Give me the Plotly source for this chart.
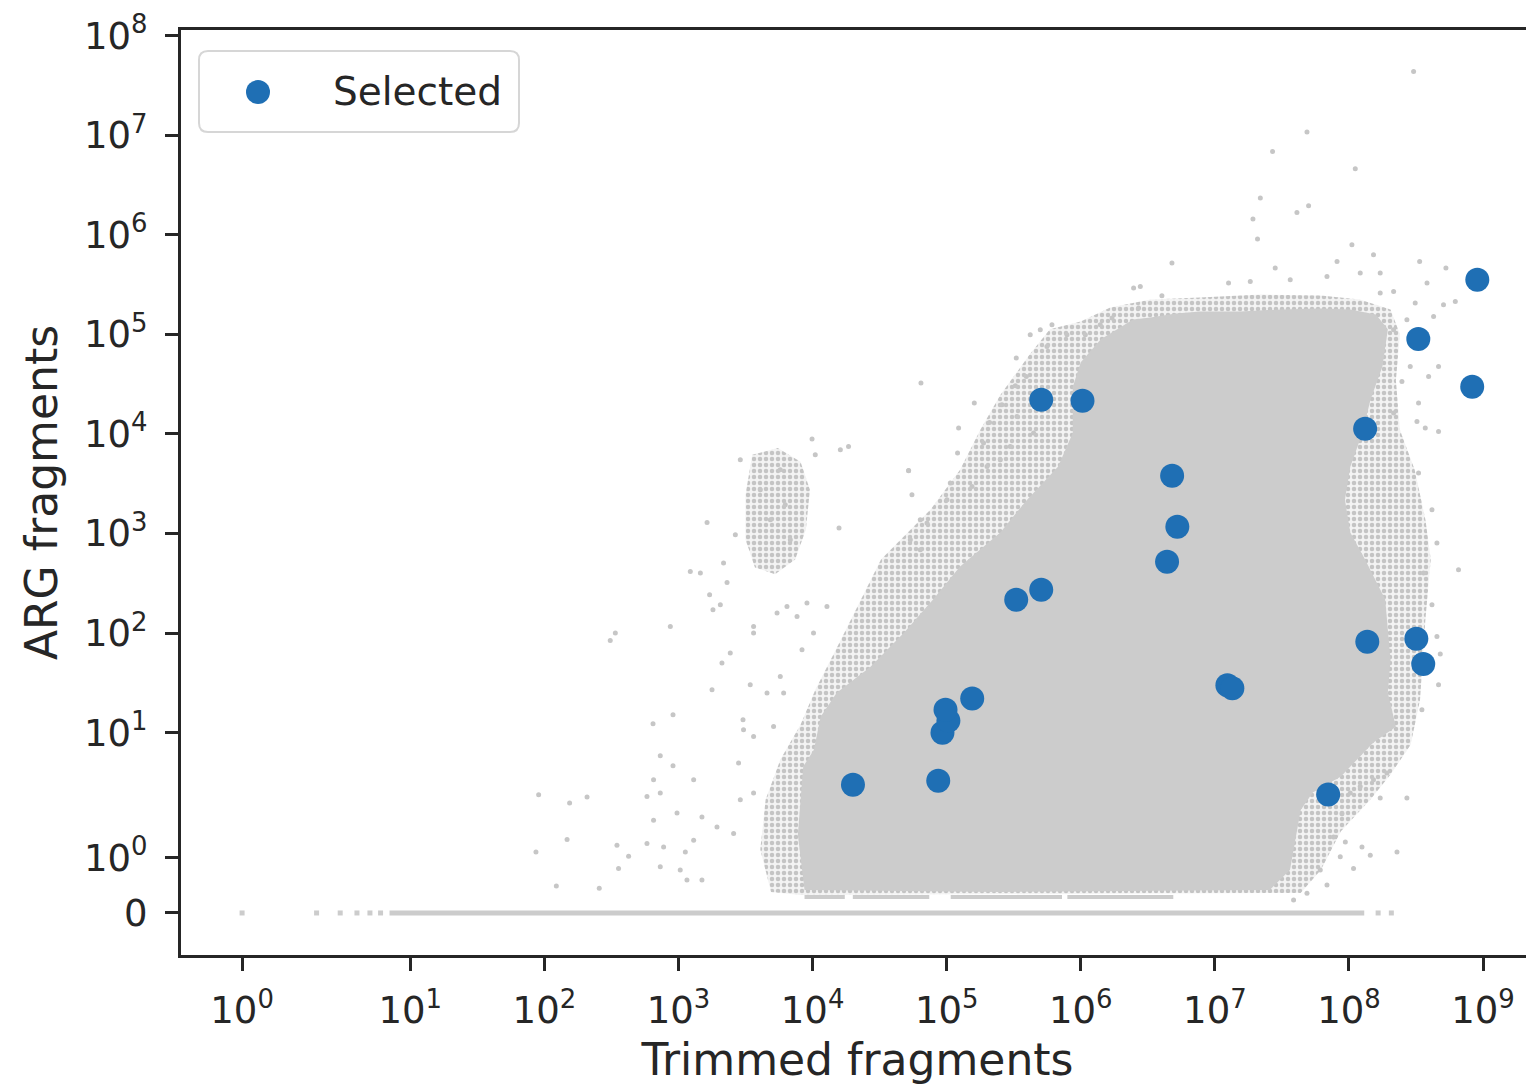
import numpy as np
import plotly.graph_objects as go

# ---------------- data ----------------
# Selected samples (blue)
sel_trimmed = [2.0e4, 8.65e4, 9.3e4, 1.03e5, 9.8e4, 1.55e5, 3.3e5, 5.07e5, 5.07e5, 1.03e6,
               4.8e6, 5.25e6, 4.4e6, 1.24e7, 1.35e7, 7.0e7, 1.32e8, 1.37e8, 3.18e8, 3.58e8,
               3.29e8, 8.3e8, 9.06e8]
sel_arg = [3, 3.3, 10, 13.2, 17, 22, 216, 273, 2.2e4, 2.15e4,
           3.8e3, 1.17e3, 521, 30, 28, 2.4, 1.13e4, 82, 88, 49,
           9.0e4, 2.98e4, 3.53e5]

# All samples (grey cloud). Outlines of the solid core and of the speckled
# fringe, read as powers of ten (log10 of trimmed / ARG fragments).
core_trim_exp = [5.94, 6.00, 6.15, 6.27, 6.39, 6.52, 6.71, 6.89, 7.19, 7.49, 7.79, 8.01, 8.20,
                 8.29, 8.25, 8.16, 8.10, 8.01, 7.97, 8.01, 8.12, 8.27, 8.31, 8.29, 8.35, 8.18,
                 8.06, 7.94, 7.73, 7.64, 7.60, 7.56, 7.41, 5.40, 3.94, 3.89, 3.93, 4.01, 4.06,
                 4.18, 4.43, 4.68, 4.90, 5.10, 5.40, 5.60, 5.83, 5.94]
core_arg_exp = [4.47, 4.72, 4.95, 5.05, 5.15, 5.17, 5.21, 5.23, 5.23, 5.25, 5.26, 5.25, 5.20,
                5.05, 4.68, 4.34, 4.01, 3.67, 3.34, 3.01, 2.74, 2.34, 1.73, 1.40, 1.06, 0.90,
                0.73, 0.56, 0.40, 0.27, 0.12, -0.11, -0.38, -0.42, -0.38, 0.15, 0.66, 0.83, 1.16,
                1.40, 1.66, 2.00, 2.34, 2.67, 3.01, 3.34, 3.67, 4.01]

fringe_trim_exp = [5.40, 5.62, 5.77, 6.00, 6.22, 6.52, 6.89, 7.34, 7.79, 8.08, 8.31, 8.38, 8.35,
                   8.38, 8.49, 8.57, 8.61, 8.57, 8.53, 8.46, 8.31, 8.16, 7.94, 7.79, 7.64, 3.91,
                   3.69, 3.61, 3.65, 3.76, 3.91, 4.02, 4.21, 4.36, 4.51, 4.88, 5.10, 5.25]
fringe_arg_exp = [4.39, 4.80, 5.05, 5.13, 5.27, 5.35, 5.37, 5.40, 5.39, 5.35, 5.25, 5.00, 4.54,
                  4.04, 3.64, 3.14, 2.74, 2.14, 1.33, 0.88, 0.58, 0.33, 0.17, -0.11, -0.44, -0.49,
                  -0.42, 0.06, 0.33, 0.73, 1.08, 1.43, 1.93, 2.34, 2.74, 3.24, 3.64, 4.04]

cluster_trim_exp = [3.55, 3.74, 3.91, 3.98, 3.95, 3.87, 3.72, 3.57, 3.50, 3.50]
cluster_arg_exp = [3.79, 3.86, 3.72, 3.44, 3.04, 2.74, 2.59, 2.66, 2.94, 3.39]

# isolated grey samples (log10 values)
sparse_trim_exp = [
    3.996, 4.207, 4.268, 3.213, 4.197, 4.716, 4.803, 2.939, 2.529, 2.491, 3.088, 3.163, 3.336,
    3.232, 3.257, 3.312, 3.362, 3.250, 3.324, 3.386, 3.535, 2.959, 2.810, 2.864, 2.959, 1.957,
    2.188, 2.318, 2.169, 1.937, 2.089, 2.409, 2.541, 2.628, 2.553, 2.765, 2.814, 2.864, 2.989,
    3.113, 3.175, 3.287, 2.814, 2.765, 2.889, 3.051, 3.113, 2.864, 3.013, 3.063, 3.175, 3.411,
    3.461, 3.560, 3.448, 3.560, 3.709, 3.481, 3.485, 3.660, 3.784, 3.759, 3.884, 3.921, 4.007,
    4.107, 3.958, 3.560, 3.560, 3.735, 3.809,
    3.685, 3.796, 3.610, 3.834, 3.759, 3.461, 4.020, 3.424,
    6.680, 6.394, 6.444, 6.605, 6.431, 6.233, 6.145, 5.785, 5.698, 5.623, 5.897, 6.034, 5.748,
    5.519, 5.594, 5.512, 4.808, 5.206, 5.412, 5.089, 5.320, 5.081, 4.716, 5.275, 5.400, 5.027,
    5.189, 4.741, 5.002, 4.853, 4.729, 4.803, 5.524, 5.648, 5.474, 5.301,
    7.687, 7.430, 8.047, 7.339, 7.699, 7.612, 7.284, 7.318, 8.022, 8.183, 7.911, 7.450, 8.527,
    8.723, 8.084, 7.102, 7.264, 7.562, 7.836, 8.233, 8.582, 8.333, 8.233, 8.494, 8.705, 8.793,
    8.631, 8.432, 8.333, 8.457, 8.594, 8.668, 8.395, 8.519, 8.507, 8.668, 8.569, 8.333, 8.519,
    8.619, 8.656, 8.817, 8.556, 8.482,
    8.619, 8.656, 8.681, 8.668, 8.544, 8.432, 8.233, 8.358, 8.159, 8.097, 8.034, 7.973, 7.885,
    7.948, 8.010, 8.084, 8.183, 8.283, 7.836, 7.687, 7.587, 7.786, 7.935]
sparse_arg_exp = [
    3.949, 3.841, 3.874, 3.111, 3.055, 3.631, 3.139, 2.067, 2.001, 1.927, 2.619, 2.603, 2.704,
    2.386, 2.235, 2.285, 2.509, 1.432, 1.700, 1.800, 1.482, 1.181, 1.090, 0.769, 0.669, 0.378,
    0.298, 0.354, 0.123, 0.043, -0.313, -0.352, 0.088, 0.011, -0.094, 0.360, 0.528, 0.395, 0.257,
    0.528, 0.239, 0.191, 0.224, 0.099, 0.077, 0.043, 0.119, -0.079, -0.111, -0.226, -0.226, 0.157,
    0.327, 0.395, 0.696, 0.963, 1.063, 1.131, 1.030, 1.399, 1.399, 1.565, 2.168, 1.833, 2.001,
    2.268, 2.302, 2.067, 2.001, 2.202, 2.268,
    3.139, 3.289, 3.440, 2.938, 3.641, 3.741, 3.791, 2.988,
    5.716, 5.465, 5.481, 5.388, 5.264, 5.164, 5.096, 5.096, 5.046, 4.996, 4.996, 4.996, 4.878,
    4.762, 4.577, 4.484, 4.511, 4.310, 4.293, 4.059, 4.115, 3.808, 3.634, 3.909, 3.741, 3.507,
    3.473, 3.390, 3.339, 3.105, 2.938, 2.837, 4.176, 4.009, 3.874, 3.674,
    7.031, 6.836, 6.663, 6.368, 6.291, 6.224, 6.158, 5.957, 5.900, 5.799, 5.732, 5.666, 5.732,
    5.666, 5.616, 5.515, 5.531, 5.548, 5.581, 5.616, 5.515, 5.431, 5.415, 5.314, 5.297, 5.330,
    5.180, 5.147, 5.046, 4.678, 4.577, 4.678, 4.527, 4.310, 4.126, 4.025, 4.059, 4.210, 3.607,
    3.239, 2.905, 2.637, 2.603, 7.640,
    2.285, 1.967, 1.790, 1.482, 1.231, 0.344, 0.344, 0.043, 0.019, 0.077, -0.094, 0.108, 0.138,
    0.254, 0.395, 0.461, 0.528, 0.595, -0.298, -0.450, -0.631, -0.111, 0.006]

# samples with zero ARG fragments
zero_row_trimmed = [1, 2, 3, 4, 5, 6, 1.65e8, 2.07e8]
zero_row_span = [7, 1.3e8]
# low fractional row (~0.29 ARG fragments), as trimmed-fragment spans (log10)
low_row_value = 0.29
low_row_spans_exp = [(3.94, 4.24), (4.30, 4.87), (5.03, 5.86), (5.90, 6.69)]

x_tick_values = [10.0 ** k for k in range(0, 10)]
x_tick_labels = ["10<sup>%d</sup>" % k for k in range(0, 10)]
y_tick_values = [0] + [10.0 ** k for k in range(0, 9)]
y_tick_labels = ["0"] + ["10<sup>%d</sup>" % k for k in range(0, 9)]

# ---------------- symlog scale (linthresh = 2, linscale = 1) ----------------
LINTHRESH = 2.0
LINSCALE_ADJ = 1.0 / (1.0 - 1.0 / 10.0)


def symlog(v):
    v = np.asarray(v, dtype=float)
    a = np.abs(v)
    safe = np.where(a > LINTHRESH, a, LINTHRESH)
    return np.where(a <= LINTHRESH, v * LINSCALE_ADJ / LINTHRESH,
                    np.sign(v) * (LINSCALE_ADJ + np.log10(safe / LINTHRESH)))


def pw(e):
    return 10.0 ** np.asarray(e, dtype=float)


GREY = "#cccccc"
BLUE = "#1f6fb4"
INK = "#262626"
speckle = dict(shape=".", fgcolor="#c4c4c4", bgcolor="#f3f3f3", size=6, solidity=0.45)

fig = go.Figure()

# speckled fringe
fig.add_trace(go.Scatter(x=symlog(pw(fringe_trim_exp)), y=symlog(pw(fringe_arg_exp)),
                         mode="lines", fill="toself", fillpattern=speckle, line=dict(width=0),
                         hoverinfo="skip", showlegend=False))
fig.add_trace(go.Scatter(x=symlog(pw(cluster_trim_exp)), y=symlog(pw(cluster_arg_exp)),
                         mode="lines", fill="toself", fillpattern=speckle, line=dict(width=0),
                         hoverinfo="skip", showlegend=False))
# solid core
fig.add_trace(go.Scatter(x=symlog(pw(core_trim_exp)), y=symlog(pw(core_arg_exp)),
                         mode="lines", fill="toself", fillcolor=GREY, line=dict(width=0),
                         hoverinfo="skip", showlegend=False))
# isolated samples
fig.add_trace(go.Scatter(x=symlog(pw(sparse_trim_exp)), y=symlog(pw(sparse_arg_exp)),
                         mode="markers", marker=dict(size=5, color="#c6c6c6"),
                         hoverinfo="skip", showlegend=False))
# zero row
fig.add_trace(go.Scatter(x=symlog(zero_row_span), y=symlog([0, 0]), mode="lines",
                         line=dict(color=GREY, width=5), hoverinfo="skip", showlegend=False))
fig.add_trace(go.Scatter(x=symlog(zero_row_trimmed), y=symlog([0] * len(zero_row_trimmed)),
                         mode="markers", marker=dict(size=5, color=GREY, symbol="square"),
                         hoverinfo="skip", showlegend=False))
# low row
lx, ly = [], []
for a, b in low_row_spans_exp:
    lx += [float(symlog(10 ** a)), float(symlog(10 ** b)), None]
    ly += [float(symlog(low_row_value))] * 2 + [None]
fig.add_trace(go.Scatter(x=lx, y=ly, mode="lines", line=dict(color=GREY, width=4),
                         hoverinfo="skip", showlegend=False))

# selected
fig.add_trace(go.Scatter(x=symlog(sel_trimmed), y=symlog(sel_arg), mode="markers",
                         name="Selected", marker=dict(size=24, color=BLUE),
                         showlegend=False))

# ---------------- layout ----------------
# the page body adds an 8 px margin, so the figure is 8 px smaller each way
OFF = 8
W, H = 1534 - OFF, 1089 - OFF
L, R, T, B = 181 - OFF, 0, 30 - OFF, 134
pw_ = W - L - R
ph_ = H - T - B


def px(x):
    return (x - OFF - L) / pw_


def py(y):
    return (H - B - (y - OFF)) / ph_


def rounded_box(x0p, y0p, x1p, y1p, r):
    x0, x1, y0, y1 = px(x0p), px(x1p), py(y1p), py(y0p)
    rx, ry = r / pw_, r / ph_
    return (f"M {x0 + rx},{y1} L {x1 - rx},{y1} Q {x1},{y1} {x1},{y1 - ry} "
            f"L {x1},{y0 + ry} Q {x1},{y0} {x1 - rx},{y0} L {x0 + rx},{y0} "
            f"Q {x0},{y0} {x0},{y0 + ry} L {x0},{y1 - ry} Q {x0},{y1} {x0 + rx},{y1} Z")


axis_common = dict(showline=True, linecolor=INK, linewidth=3, ticks="outside", ticklen=13,
                   tickwidth=3, tickcolor=INK, showgrid=False, zeroline=False,
                   automargin=False,
                   tickfont=dict(size=37, color=INK, family="DejaVu Sans"))

fig.update_layout(
    template="none",
    width=W, height=H,
    margin=dict(l=L, r=R, t=T, b=B, pad=0),
    paper_bgcolor="white", plot_bgcolor="white",
    font=dict(family="DejaVu Sans", color=INK),
    showlegend=False,
    xaxis=dict(range=[0.100, 10.19], tickmode="array",
               tickvals=symlog(x_tick_values).tolist(), ticktext=x_tick_labels,
               mirror=True, ticklabelstandoff=8,
               title=dict(text="Trimmed fragments", font=dict(size=44, color=INK), standoff=13),
               **axis_common),
    yaxis=dict(range=[-0.422, 8.866], tickmode="array",
               tickvals=symlog(y_tick_values).tolist(), ticktext=y_tick_labels,
               ticklabelstandoff=10,
               title=dict(text="ARG fragments", font=dict(size=44, color=INK), standoff=13),
               **axis_common),
    shapes=[
        dict(type="path", xref="paper", yref="paper", path=rounded_box(199, 51, 519, 132, 9),
             line=dict(color="#d6d6d6", width=2), fillcolor="rgba(255,255,255,0.8)", layer="above"),
        dict(type="circle", xref="paper", yref="paper", x0=px(246), x1=px(270), y0=py(104), y1=py(80),
             line=dict(width=0), fillcolor=BLUE, layer="above"),
    ],
    annotations=[
        dict(text="Selected", xref="paper", yref="paper", x=px(331), y=py(92), xanchor="left",
             yanchor="middle", showarrow=False, font=dict(size=39, color=INK, family="DejaVu Sans")),
    ],
)

fig.write_html("out.html")
